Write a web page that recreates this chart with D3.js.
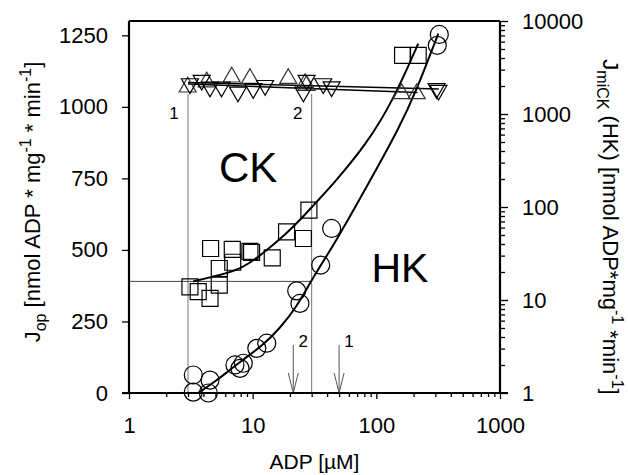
<!DOCTYPE html>
<meta charset="utf-8">
<script src="https://d3js.org/d3.v7.min.js"></script>
<style>
  body { margin: 0; background: #fff; }
  text { font-family: "Liberation Sans", Arial, sans-serif; fill: #000; }
</style>
<div id="my_dataviz"></div>
<script>

// ---- data ----
// squares: J_op with creatine (CK)
var ckADP = [3.11, 3.63, 4.52, 4.57, 5.37, 5.37, 6.84, 6.9, 9.5, 9.8, 14.4, 18.8, 25.7, 28.5, 163, 218];
var ckJ   = [371, 354, 331, 505, 435, 377, 502, 457, 495, 491, 472, 563, 540, 639, 1180, 1180];

// circles: J_op with glucose (HK)
var hkADP = [3.31, 3.31, 4.38, 4.52, 7.19, 7.9, 8.4, 10.8, 13.0, 22.7, 24.1, 35.5, 43.5, 311, 323];
var hkJ   = [63, 3, 0, 45, 98, 86, 104, 156, 174, 357, 313, 447, 575, 1215, 1253];

// triangles (up / down): J_miCK
var upADP = [2.98, 4.25, 6.77, 9.5, 19.4, 26.5, 27.3, 160, 212];
var upJ   = [1069, 1087, 1104, 1099, 1099, 1081, 1075, 1046, 1046];
var dnADP = [3.11, 3.87, 4.52, 5.6, 7.6, 10.1, 12.6, 25.7, 27.3, 37.2, 43.5, 307, 318];
var dnJ   = [1081, 1093, 1069, 1069, 1052, 1064, 1075, 1052, 1093, 1081, 1070, 1064, 1058];

// fitted curves
var ckFitADP = [3.3, 4.5, 7.9, 12.2, 18.8, 24.1, 32.9, 44.8, 83.4, 137, 218];
var ckFitJ   = [390, 404, 429, 488, 558, 604, 668, 730, 870, 1023, 1221];
var hkFitADP = [3.6, 4.8, 7.9, 12.2, 16.6, 22.7, 29.9, 47.8, 83.4, 155, 211, 317];
var hkFitJ   = [0, 34, 109, 168, 226, 301, 395, 534, 720, 930, 1058, 1256];
var upFitADP = [3, 215];
var upFitJ   = [1080, 1050];
var dnFitADP = [3, 320];
var dnFitJ   = [1085, 1062];

// guide lines and arrows
var guideADP = [3, 30];        // vertical guides labelled 1, 2
var guideTop = 1045;
var guideLabels = ["1", "2"];
var kmLine = 390;              // horizontal guide
var arrowADP = [21.3, 50];     // arrows labelled 2, 1
var arrowLabels = ["2", "1"];

var xTicks = [1, 10, 100, 1000];
var yLeftTicks = [0, 250, 500, 750, 1000, 1250];
var yRightTicks = [1, 10, 100, 1000, 10000];

// ---- layout ----
var margin = {top: 21, right: 128, bottom: 82, left: 129},
    width = 628 - margin.left - margin.right,
    height = 475 - margin.top - margin.bottom;

var svg = d3.select("#my_dataviz")
  .append("svg")
    .attr("width", 628)
    .attr("height", 475)
  .append("g")
    .attr("transform", "translate(" + margin.left + "," + margin.top + ")");

var x = d3.scaleLog().domain([1, 1000]).range([0, width]);
var y = d3.scaleLinear().domain([0, 1300]).range([height, 0]);
var y2 = d3.scaleLog().domain([1, 10000]).range([height, 0]);

function minors(lo, hi) {
  var out = [];
  for (var d = lo; d < hi; d *= 10)
    for (var k = 2; k <= 9; k++) out.push(d * k);
  return out;
}

// guides (drawn first, under the symbols)
svg.selectAll(".guide")
  .data(guideADP)
  .enter().append("line")
    .attr("x1", function(d) { return x(d); })
    .attr("x2", function(d) { return x(d); })
    .attr("y1", y(0))
    .attr("y2", y(guideTop))
    .attr("stroke", "#777")
    .attr("stroke-width", 1);

svg.append("line")
  .attr("x1", 0)
  .attr("x2", x(guideADP[1]))
  .attr("y1", y(kmLine))
  .attr("y2", y(kmLine))
  .attr("stroke", "#444")
  .attr("stroke-width", 1);

svg.selectAll(".guideLabel")
  .data(guideADP)
  .enter().append("text")
    .attr("x", function(d) { return x(d) - 14; })
    .attr("y", y(guideTop) + 25)
    .attr("text-anchor", "middle")
    .style("font-size", "17px")
    .text(function(d, i) { return guideLabels[i]; });

// arrows
var arrows = svg.selectAll(".arrow")
  .data(arrowADP)
  .enter().append("g")
    .attr("transform", function(d) { return "translate(" + x(d) + "," + y(0) + ")"; });
arrows.append("line")
  .attr("x1", 0).attr("x2", 0)
  .attr("y1", -48).attr("y2", 0)
  .attr("stroke", "#555").attr("stroke-width", 1);
arrows.append("path")
  .attr("d", "M-5,-20L0,0L5,-20")
  .attr("fill", "none")
  .attr("stroke", "#555").attr("stroke-width", 1);
arrows.append("text")
  .attr("x", 10)
  .attr("y", -46)
  .attr("text-anchor", "middle")
  .style("font-size", "17px")
  .text(function(d, i) { return arrowLabels[i]; });

// big labels
svg.append("text")
  .attr("x", x(9.2)).attr("y", y(737))
  .attr("text-anchor", "middle")
  .style("font-size", "42px")
  .text("CK");
svg.append("text")
  .attr("x", x(155)).attr("y", y(388))
  .attr("text-anchor", "middle")
  .style("font-size", "41px")
  .text("HK");

// fitted lines
var line = d3.line()
  .x(function(d) { return x(d[0]); })
  .y(function(d) { return y(d[1]); })
  .curve(d3.curveBasis);

function drawLine(xs, ys, w) {
  svg.append("path")
    .datum(d3.zip(xs, ys))
    .attr("d", line)
    .attr("fill", "none")
    .attr("stroke", "#000")
    .attr("stroke-width", w);
}
drawLine(upFitADP, upFitJ, 1.5);
drawLine(dnFitADP, dnFitJ, 1.5);
drawLine(ckFitADP, ckFitJ, 2);
drawLine(hkFitADP, hkFitJ, 2);

// symbols
function drawSymbols(xs, ys, type, size, rot, color) {
  svg.append("g").selectAll("path")
    .data(d3.zip(xs, ys))
    .enter().append("path")
      .attr("d", d3.symbol().type(type).size(size))
      .attr("transform", function(d) {
        return "translate(" + x(d[0]) + "," + y(d[1]) + ") rotate(" + rot + ")";
      })
      .attr("fill", "none")
      .attr("stroke", color)
      .attr("stroke-width", 1.2);
}
drawSymbols(upADP, upJ, d3.symbolTriangle, 125, 0, "#333");
drawSymbols(dnADP, dnJ, d3.symbolTriangle, 125, 180, "#000");
drawSymbols(ckADP, ckJ, d3.symbolSquare, 256, 0, "#000");
drawSymbols(hkADP, hkJ, d3.symbolCircle, 254, 0, "#000");

// ---- axes ----
// bottom
var xAxis = svg.append("g")
  .attr("transform", "translate(0," + height + ")")
  .call(d3.axisBottom(x).tickValues(xTicks).tickSize(6).tickPadding(18)
        .tickFormat(d3.format("d")));
svg.append("g")
  .attr("transform", "translate(0," + height + ")")
  .call(d3.axisBottom(x).tickValues(minors(1, 1000)).tickSize(4).tickFormat(""))
  .select(".domain").remove();

// left
var yAxis = svg.append("g")
  .call(d3.axisLeft(y).tickValues(yLeftTicks).tickSize(7).tickPadding(14)
        .tickFormat(d3.format("d")));

// right
var y2Axis = svg.append("g")
  .attr("transform", "translate(" + width + ",0)")
  .call(d3.axisRight(y2).tickValues(yRightTicks).tickSize(8).tickPadding(14)
        .tickFormat(d3.format("d")));
svg.append("g")
  .attr("transform", "translate(" + width + ",0)")
  .call(d3.axisRight(y2).tickValues(minors(1, 10000)).tickSize(5).tickFormat(""))
  .select(".domain").remove();

svg.selectAll(".domain").attr("stroke-width", 2.2).attr("stroke", "#000");
svg.selectAll(".tick line").attr("stroke-width", 1.3).attr("stroke", "#000");
svg.selectAll(".tick text")
  .style("font-size", "22px")
  .style("font-family", '"Liberation Sans", Arial, sans-serif');

// bottom line sticks out past both side axes
xAxis.select(".domain").attr("d", "M-7,0H" + (width + 8));
yAxis.select(".domain").attr("d", "M0," + height + "V0");
y2Axis.select(".domain").attr("d", "M0," + height + "V0");

// top frame
svg.append("line")
  .attr("x1", 0).attr("x2", width)
  .attr("y1", 0).attr("y2", 0)
  .attr("stroke", "#000").attr("stroke-width", 2.2);

// ---- titles ----
svg.append("text")
  .attr("x", width / 2)
  .attr("y", height + 76)
  .attr("text-anchor", "middle")
  .style("font-size", "21px")
  .text("ADP [\u00b5M]");

var lt = svg.append("text")
  .attr("transform", "translate(" + (40 - margin.left) + "," + (height / 2 - 5) + ") rotate(-90)")
  .attr("text-anchor", "middle")
  .style("font-size", "22px");
lt.append("tspan").text("J");
lt.append("tspan").attr("dy", 6).style("font-size", "16px").text("op");
lt.append("tspan").attr("dy", -6).text("  [nmol ADP * mg");
lt.append("tspan").attr("dy", -9).style("font-size", "16px").text("-1");
lt.append("tspan").attr("dy", 9).text(" * min");
lt.append("tspan").attr("dy", -9).style("font-size", "16px").text("-1");
lt.append("tspan").attr("dy", 9).text("]");

var rt = svg.append("text")
  .attr("transform", "translate(" + (width + 603 - 500) + "," + (height / 2 + 20) + ") rotate(90)")
  .attr("text-anchor", "middle")
  .style("font-size", "22px");
rt.append("tspan").text("J");
rt.append("tspan").attr("dy", 6).style("font-size", "16px").text("miCK");
rt.append("tspan").attr("dy", -6).text(" (HK) [nmol ADP*mg");
rt.append("tspan").attr("dy", -9).style("font-size", "16px").text("-1");
rt.append("tspan").attr("dy", 9).text(" *min");
rt.append("tspan").attr("dy", -9).style("font-size", "16px").text("-1");
rt.append("tspan").attr("dy", 9).text("]");

</script>
